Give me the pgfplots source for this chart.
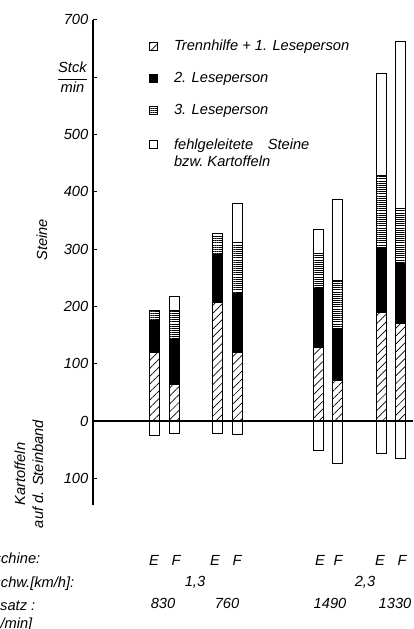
\documentclass[border=0pt]{standalone}
\usepackage{fontspec}
\setmainfont{Liberation Sans}
\usepackage{pgfplots}
\usepackage{pgfplotstable}
\pgfplotsset{compat=1.18}
\usetikzlibrary{patterns.meta}

\pgfplotstableread{
x h b s w n
154 120 56 16 0 -26
174 63 80 50 25 -22
217.5 206 85 31 5 -21
237.5 120 103 89 68 -23
318 129 103 60 42 -52
337 70 92 84 141 -74
381 190 112 127 177 -56
400.5 171 104 96 291 -65
}\data

\begin{document}
\begin{tikzpicture}[font=\fontsize{11}{13.5}\selectfont\itshape]
\pgfplotsset{base/.style={x=0.75pt, y=0.42975pt, xmin=93, xmax=413, ymin=-147, ymax=700,
  clip=false, enlargelimits=false}}
\begin{axis}[base, hide axis, ybar, bar width=7.5pt, bar shift=0pt]
\addplot[fill=white, draw=black, line width=0.75pt] table[x=x,y=n]{\data};
\end{axis}
\begin{axis}[base, ybar stacked, bar width=7.5pt,
  axis x line*=middle, axis y line*=left,
  x axis line style={line width=1.3pt, -},
  y axis line style={line width=0.8pt, -},
  xtick=\empty,
  ytick={-100,0,100,200,300,400,500,600,700},
  yticklabels={100,0,100,200,300,400,500,{$\displaystyle\frac{\mbox{\itshape Stck}}{\mbox{\itshape min}}$},700},
  tick align=inside, major tick length=3pt,
  y tick style={black, line width=0.6pt},
  tick label style={font=\fontsize{11}{13}\selectfont\itshape},
  legend style={at={(axis cs:145,675)}, anchor=north west, draw=none, fill=none,
    font=\fontsize{11}{13}\selectfont\itshape, row sep=11pt,
    /tikz/every odd column/.append style={column sep=10pt}},
  legend cell align=left,
  legend image code/.code={\draw[#1, line width=0.6pt] (0pt,-3pt) rectangle (6pt,3pt);},
]
\addplot[draw=black, line width=0.75pt, fill=white, pattern={Lines[angle=45,distance=4.2pt,line width=0.5pt]}] table[x=x,y=h]{\data};
\addlegendentry{Trennhilfe + 1. Leseperson}
\addplot[draw=black, line width=0.75pt, fill=black] table[x=x,y=b]{\data};
\addlegendentry{2. Leseperson}
\addplot[draw=black, line width=0.75pt, pattern={Lines[angle=0,distance=1.6pt,line width=0.6pt]}] table[x=x,y=s]{\data};
\addlegendentry{3. Leseperson}
\addplot[draw=black, line width=0.75pt, fill=white] table[x=x,y=w]{\data};
\addlegendentry{\begin{tabular}[t]{@{}l@{}}fehlgeleitete\quad Steine\\bzw.\ Kartoffeln\end{tabular}}

\node[rotate=90] at (axis cs:42,316) {Steine};
\node[rotate=90, align=center] at (axis cs:29,-92.5) {Kartoffeln\\auf d. Steinband};

\node[anchor=mid] at (axis cs:154,-246) {E};
\node[anchor=mid] at (axis cs:176,-246) {F};
\node[anchor=mid] at (axis cs:215,-246) {E};
\node[anchor=mid] at (axis cs:237,-246) {F};
\node[anchor=mid] at (axis cs:320,-246) {E};
\node[anchor=mid] at (axis cs:338,-246) {F};
\node[anchor=mid] at (axis cs:380,-246) {E};
\node[anchor=mid] at (axis cs:402,-246) {F};
\node[anchor=mid] at (axis cs:195,-283) {1,3};
\node[anchor=mid] at (axis cs:365,-283) {2,3};
\node[anchor=mid] at (axis cs:163,-321) {830};
\node[anchor=mid] at (axis cs:227,-321) {760};
\node[anchor=mid] at (axis cs:330,-321) {1490};
\node[anchor=mid] at (axis cs:395,-321) {1330};

\node[anchor=mid east] at (axis cs:45,-243) {Maschine:};
\node[anchor=mid east] at (axis cs:79,-285) {Rodegeschw.[km/h]:};
\node[anchor=mid east] at (axis cs:40,-324) {Durchsatz :};
\node[anchor=mid east] at (axis cs:37,-356) {[Kart./min]};

\coordinate (bbsw) at (axis cs:0,-363);
\coordinate (bbne) at (axis cs:413,734.7);
\end{axis}
\pgfresetboundingbox
\path[use as bounding box] (bbsw) rectangle (bbne);
\end{tikzpicture}
\end{document}
